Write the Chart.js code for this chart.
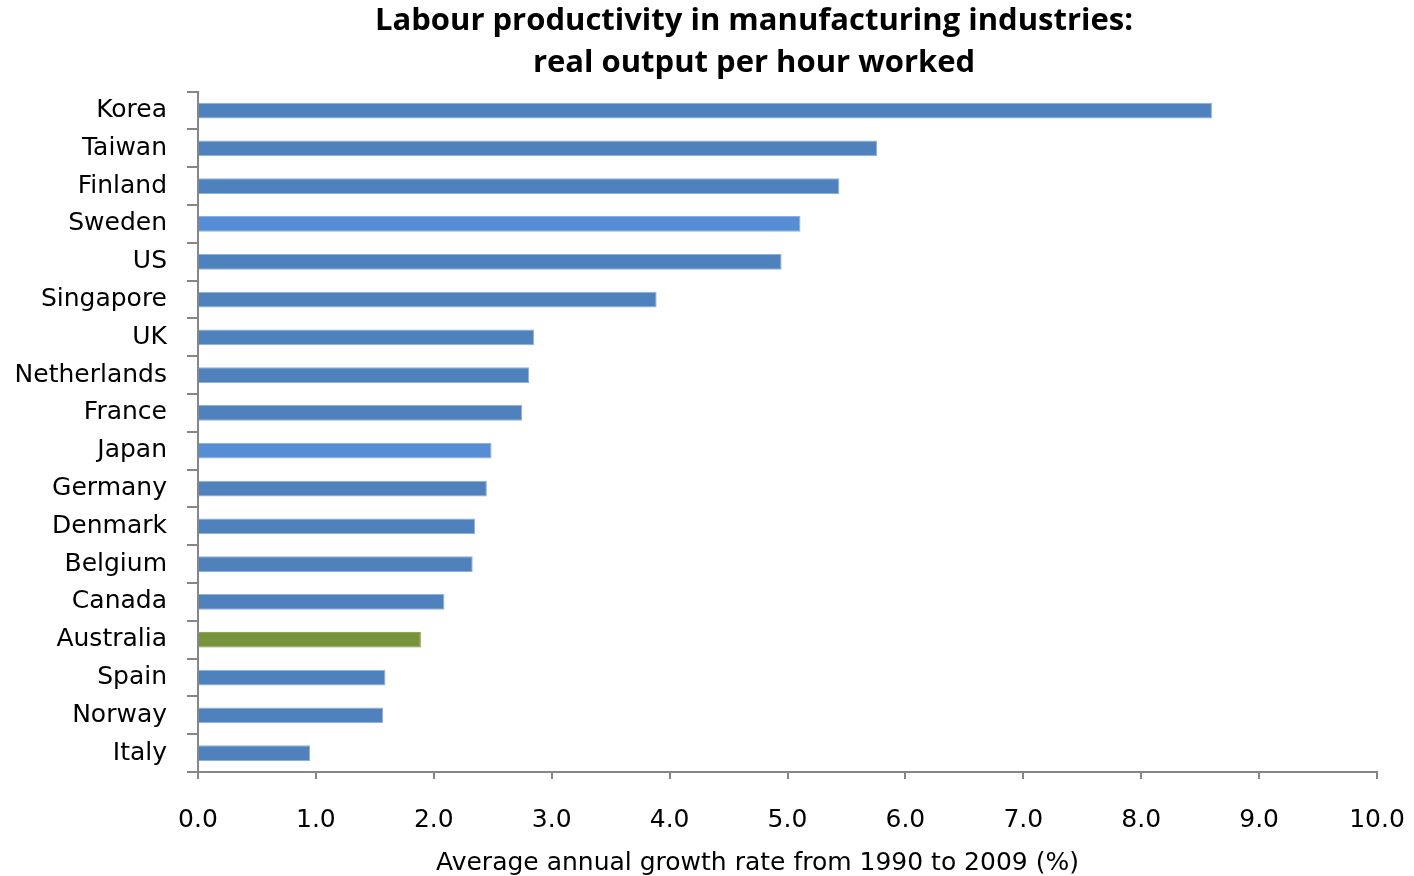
<!DOCTYPE html>
<html>
<head>
<meta charset="utf-8">
<script src="https://cdn.jsdelivr.net/npm/chart.js@4"></script>
<style>
  html, body { margin: 0; padding: 0; background: #fff; }
  #wrap { width: 1414px; height: 876px; }
</style>
</head>
<body>
<div id="wrap"><canvas id="chart" width="1414" height="876"></canvas></div>
<script>
// ===== DATA =====
const countries = ["Korea", "Taiwan", "Finland", "Sweden", "US", "Singapore", "UK", "Netherlands",
  "France", "Japan", "Germany", "Denmark", "Belgium", "Canada", "Australia", "Spain", "Norway", "Italy"];
const growth = [8.60, 5.76, 5.44, 5.11, 4.95, 3.89, 2.85, 2.81, 2.75, 2.49, 2.45, 2.35, 2.33, 2.09, 1.89, 1.59, 1.57, 0.95];
const xTicks = [0, 1, 2, 3, 4, 5, 6, 7, 8, 9, 10];

// bar colours: default blue, a lighter blue for Sweden/Japan, green for Australia
const BLUE = "#4f81bd", LIGHT = "#558ed5", GREEN = "#77933c";
const barColors = countries.map(c =>
  c === "Australia" ? GREEN : (c === "Sweden" || c === "Japan") ? LIGHT : BLUE);
const barBorders = countries.map(c => c === "Australia" ? GREEN : "#8eb0dc");

const LABEL_FONT = { family: "'DejaVu Sans', sans-serif", size: 25 };

// the original centres the titles a little off the plot centre
const titleShift = {
  id: "titleShift",
  afterLayout(chart) {
    if (chart.titleBlock) chart.titleBlock.left = 131;
    const x = chart.scales.x;
    if (x && !x._shifted) {
      const orig = x.drawTitle;
      x.drawTitle = function () {
        const l = this.left;
        this.left = l - 60;
        orig.call(this);
        this.left = l;
      };
      x._shifted = true;
    }
  }
};

new Chart(document.getElementById("chart"), {
  type: "bar",
  data: {
    labels: countries,
    datasets: [{
      data: growth,
      backgroundColor: barColors,
      borderColor: barBorders,
      borderWidth: 1,
      categoryPercentage: 0.8,
      barPercentage: 0.52
    }]
  },
  options: {
    indexAxis: "y",
    responsive: false,
    animation: false,
    layout: { padding: { left: 0, right: 37, top: 0, bottom: 0 } },
    plugins: {
      legend: { display: false },
      tooltip: { enabled: false },
      title: {
        display: true,
        text: ["Labour productivity in manufacturing industries:", "real output per hour worked"],
        color: "#000",
        font: { family: "'Open Sans', sans-serif", size: 31, weight: "bold", lineHeight: 1.35 },
        padding: { top: 0, bottom: 8 }
      }
    },
    scales: {
      x: {
        min: 0,
        max: 10,
        afterBuildTicks: s => { s.ticks = xTicks.map(v => ({ value: v })); },
        afterFit: s => { s.height = 104; s.paddingLeft = 0; s.paddingRight = 0; },
        grid: { drawOnChartArea: false, color: "#868686", tickLength: 7, lineWidth: 2 },
        border: { color: "#868686", width: 2 },
        ticks: {
          color: "#000",
          font: LABEL_FONT,
          padding: 26,
          maxRotation: 0,
          callback: v => Number(v).toFixed(1)
        },
        title: {
          display: true,
          text: "Average annual growth rate from 1990 to 2009 (%)",
          color: "#000",
          font: { family: "'DejaVu Sans', sans-serif", size: 25, lineHeight: 1.0 },
          padding: { top: 6, bottom: 0 }
        }
      },
      y: {
        afterFit: s => { s.width = 198; },
        grid: { drawOnChartArea: false, color: "#868686", tickLength: 11, lineWidth: 2, offset: true },
        border: { color: "#868686", width: 2 },
        ticks: { color: "#000", font: LABEL_FONT, padding: 20 }
      }
    }
  },
  plugins: [titleShift]
});
</script>
</body>
</html>
